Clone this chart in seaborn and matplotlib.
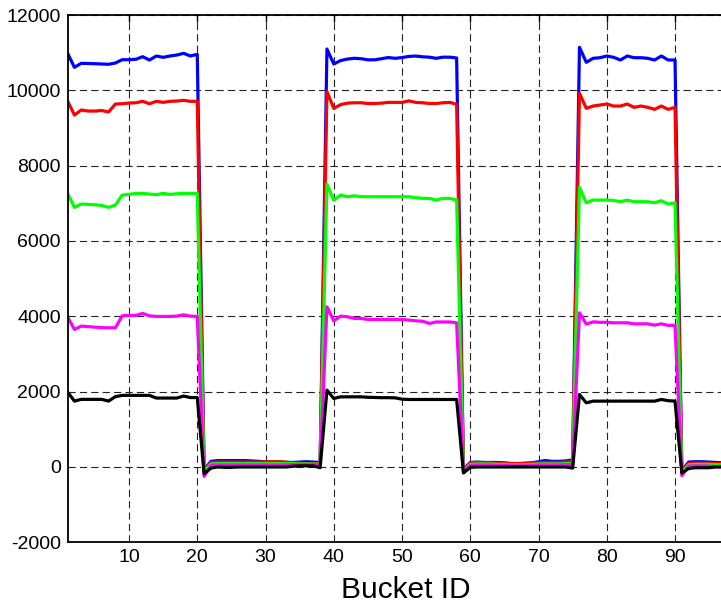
import numpy as np
import pandas as pd
import matplotlib
matplotlib.use("Agg")
import matplotlib.pyplot as plt
import seaborn as sns

# ---------------- data ----------------
bucket = list(range(1, 101))

blue = ([10983, 10611, 10717, 10712, 10706, 10699, 10691, 10725, 10813, 10813,
         10824, 10893, 10805, 10911, 10876, 10911, 10937, 10983, 10911, 10956] +
        [-80, 150, 170, 170, 170, 170, 170, 160, 150, 130, 130, 130, 120, 120, 130, 140, 130, 120] +
        [11097, 10699, 10790, 10830, 10850, 10840, 10810, 10810, 10840, 10870,
         10850, 10870, 10900, 10910, 10890, 10880, 10850, 10880, 10880, 10860] +
        [-60, 120, 130, 120, 120, 120, 110, 90, 90, 100, 110, 140, 170, 150, 150, 160, 190] +
        [11142, 10744, 10850, 10866, 10911, 10876, 10805, 10911, 10866, 10866,
         10850, 10805, 10911, 10805, 10805] +
        [-100, 130, 140, 140, 130, 120, 110, 110, 110, 110])

red = ([9716, 9344, 9477, 9450, 9450, 9464, 9424, 9636, 9644, 9662,
        9670, 9708, 9644, 9708, 9681, 9708, 9716, 9734, 9708, 9708] +
       [-100, 120, 130, 130, 130, 130, 130, 130, 130, 140, 140, 140, 130, 110, 100, 90, 90, 90] +
       [9963, 9522, 9620, 9660, 9670, 9670, 9650, 9650, 9660, 9680,
        9680, 9680, 9720, 9680, 9670, 9650, 9650, 9670, 9680, 9630] +
       [-70, 110, 120, 110, 110, 100, 100, 90, 90, 90, 100, 110, 120, 120, 120, 130, 140] +
       [9920, 9522, 9583, 9610, 9636, 9583, 9583, 9636, 9548, 9583,
        9548, 9495, 9583, 9495, 9548] +
       [-120, 90, 100, 100, 100, 90, 90, 90, 90, 90])

green = ([7264, 6893, 6980, 6972, 6961, 6945, 6893, 6954, 7219, 7237,
          7264, 7264, 7245, 7227, 7264, 7237, 7253, 7264, 7264, 7264] +
         [-130, 80, 90, 90, 90, 90, 90, 90, 90, 90, 90, 90, 90, 90, 80, 80, 80, 70] +
         [7511, 7086, 7219, 7175, 7200, 7175, 7175, 7175, 7175, 7175,
          7175, 7175, 7175, 7150, 7131, 7131, 7086, 7131, 7131, 7086] +
         [-90, 70, 80, 80, 80, 70, 70, 60, 60, 60, 70, 80, 80, 80, 80, 90, 100] +
         [7423, 7015, 7086, 7086, 7086, 7077, 7042, 7086, 7042, 7042,
          7042, 7015, 7069, 6980, 7015] +
         [-150, 60, 70, 70, 70, 60, 60, 60, 60, 60])

magenta = ([3987, 3652, 3740, 3727, 3713, 3700, 3695, 3695, 4013, 4024,
            4024, 4077, 4013, 3997, 3997, 3997, 4005, 4040, 4005, 3997] +
           [-250, 40, 50, 50, 50, 50, 50, 50, 50, 50, 50, 50, 50, 60, 60, 60, 60, 50] +
           [4252, 3880, 4005, 3987, 3944, 3944, 3917, 3917, 3917, 3917,
            3917, 3917, 3900, 3880, 3870, 3811, 3850, 3850, 3850, 3828] +
           [-120, 40, 50, 50, 50, 40, 40, 30, 30, 30, 40, 50, 50, 50, 50, 60, 60] +
           [4093, 3793, 3854, 3840, 3840, 3828, 3828, 3828, 3800, 3800,
            3800, 3766, 3800, 3760, 3760] +
           [-230, 20, 30, 30, 20, 10, 10, 10, 10, 10])

black = ([1989, 1749, 1795, 1795, 1795, 1795, 1749, 1867, 1901, 1901,
          1901, 1901, 1901, 1830, 1830, 1830, 1830, 1883, 1843, 1843] +
         [-180, -30, 0, -10, -10, 0, 0, 0, 0, 0, 0, 0, 0, 20, 30, 30, 30, -20] +
         [2040, 1819, 1862, 1862, 1862, 1862, 1850, 1845, 1840, 1840,
          1835, 1800, 1792, 1792, 1792, 1792, 1792, 1792, 1792, 1792] +
         [-160, -10, 0, 0, 0, 0, 0, 0, 0, 0, 0, 0, 0, 0, 0, 0, -30] +
         [1925, 1703, 1748, 1748, 1748, 1748, 1748, 1748, 1748, 1748,
          1748, 1748, 1792, 1760, 1748] +
         [-160, -40, -20, -20, -20, 0, 0, 0, 0, 0])

series_names = ["blue", "red", "green", "magenta", "black"]
series_values = [blue, red, green, magenta, black]
series_colors = ["#0000ff", "#ff0000", "#00ff00", "#ff00ff", "#000000"]

x_ticks = [10, 20, 30, 40, 50, 60, 70, 80, 90]
y_ticks = [-2000, 0, 2000, 4000, 6000, 8000, 10000, 12000]

df = pd.DataFrame({
    "bucket": np.tile(bucket, len(series_names)),
    "value": np.concatenate([np.asarray(v, float) for v in series_values]),
    "series": np.repeat(series_names, len(bucket)),
})

# ---------------- style ----------------
sns.set_style("white")
plt.rcParams["font.family"] = ["Liberation Sans", "DejaVu Sans"]
plt.rcParams["lines.scale_dashes"] = False
plt.rcParams["text.color"] = "black"
plt.rcParams["axes.labelcolor"] = "black"

W, H = 721, 606
fig = plt.figure(figsize=(W / 100, H / 100), dpi=100)
px_per_unit = 6.825
left_px, top_px, bottom_px = 67.6, 15.0, 542.3
ax = fig.add_axes([left_px / W, (H - bottom_px) / H,
                   99 * px_per_unit / W, (bottom_px - top_px) / H])

sns.lineplot(data=df, x="bucket", y="value", hue="series",
             hue_order=series_names, palette=series_colors,
             estimator=None, linewidth=2.3, legend=False, ax=ax)

ax.set_xlim(1, 100)
ax.set_ylim(-2000, 12000)
ax.set_xticks(x_ticks)
ax.set_yticks(y_ticks)
ax.set_xticklabels([str(t) for t in x_ticks])
ax.set_yticklabels([str(t) for t in y_ticks])

ax.grid(True, color="#222222", linestyle=(0, (5.2, 3.0)), linewidth=0.8)
ax.set_axisbelow(True)
ax.tick_params(direction="in", length=5, width=1.0, top=True, right=True,
               labelsize=14, pad=5, colors="black", labelcolor="black")
for s in ax.spines.values():
    s.set_color("black")
    s.set_linewidth(1.3)

ax.set_xlabel("Bucket ID", fontsize=21.5, labelpad=7, color="black")
ax.set_ylabel("")

fig.savefig("out.png", dpi=100)
